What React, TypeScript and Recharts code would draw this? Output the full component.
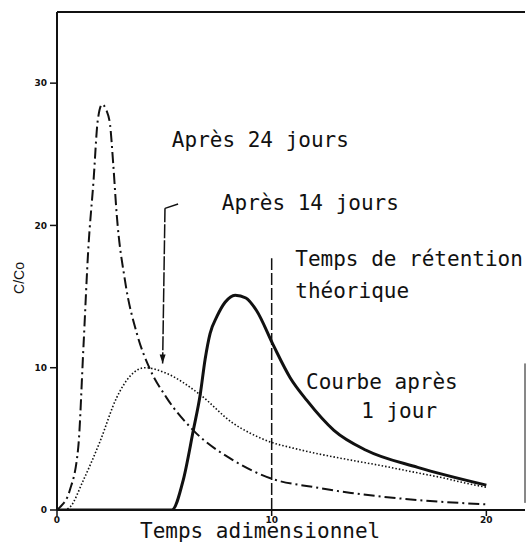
import React from 'react';
import { LineChart, Line, XAxis, YAxis, ReferenceLine, ReferenceDot } from 'recharts';

// courbe après 24 jours (trait-point)
const day24X = [0, 0.14, 0.6, 0.99, 1.23, 1.46, 1.7, 1.9, 2.1, 2.3, 2.47, 2.62, 2.78, 3.17, 3.72, 4.3, 5.1, 6.35, 8.2, 10, 12, 13.7, 16.8, 20];
const day24Y = [0, 0.2, 1.4, 4.4, 11.4, 18.4, 23.1, 27.4, 28.5, 28.1, 27.1, 24.3, 20.8, 16.1, 12.4, 10.0, 7.9, 5.6, 3.5, 2.2, 1.6, 1.2, 0.7, 0.4];

// courbe après 14 jours (pointillé)
const day14X = [0, 0.3, 0.6, 1.23, 2.0, 2.78, 3.4, 4.1, 5.1, 6.67, 8.2, 9, 10, 11, 12, 13, 14, 15, 16, 17, 18, 19, 20];
const day14Y = [0, 0, 0.2, 2.1, 4.8, 7.9, 9.4, 10.0, 9.6, 8.1, 6.1, 5.4, 4.75, 4.35, 4.0, 3.7, 3.42, 3.15, 2.85, 2.55, 2.25, 1.9, 1.6];

// courbe après 1 jour (trait plein)
const day1X = [0, 5.35, 5.88, 6.35, 6.67, 6.9, 7.13, 7.45, 7.83, 8.3, 8.8, 9.3, 10.07, 10.86, 11.64, 12.9, 14.4, 16.8, 20];
const day1Y = [0, 0, 2.1, 5.6, 8.1, 10.6, 12.4, 13.6, 14.6, 15.1, 14.9, 14.0, 11.6, 9.3, 7.7, 5.6, 4.2, 3.0, 1.75];

const xTicks = [0, 10, 20];
const yTicks = [0, 10, 20, 30];

const retentionTime = 10;
const retentionTop = 17.7;

// annotations: texte, position (coordonnées des données)
const noteTexts = ['Après 24 jours', 'Après 14 jours', 'Temps de rétention', 'théorique', 'Courbe après', '1 jour'];
const noteX = [5.35, 7.68, 11.1, 11.1, 11.6, 14.17];
const noteY = [25.54, 21.05, 17.12, 14.88, 8.49, 6.46];

// flèche vers la courbe 14 jours
const arrowX = [5.64, 5.03, 4.92];
const arrowY = [21.5, 21.2, 10.3];

const ink = '#111';
const mono = '"DejaVu Sans Mono", monospace';

const toPoints = (xs: number[], ys: number[]) => xs.map((x, i) => ({ x, y: ys[i] }));

const renderNote = (text: string) => (props: any) => {
  const vb = props.viewBox || {};
  return (
    <text x={vb.x} y={vb.y} fill={ink} fontFamily={mono} fontSize={21}>
      {text}
    </text>
  );
};

const ArrowHead = (props: any) => {
  const { cx, cy } = props;
  return <path d={`M${cx},${cy} L${cx - 3},${cy - 9} L${cx + 3},${cy - 9} Z`} fill={ink} />;
};

const renderXLabel = (props: any) => {
  const vb = props.viewBox || {};
  return (
    <text x={vb.x + 83} y={vb.y + 28} fill={ink} fontFamily={mono} fontSize={21}>
      Temps adimensionnel
    </text>
  );
};

const renderYLabel = (props: any) => {
  const vb = props.viewBox || {};
  const cx = vb.x + 19;
  const cy = vb.y + vb.height / 2 + 17;
  return (
    <text
      x={cx}
      y={cy}
      transform={`rotate(-90, ${cx}, ${cy})`}
      textAnchor="middle"
      dominantBaseline="central"
      fill={ink}
      fontFamily='"Liberation Sans", Arial, sans-serif'
      fontSize={14}
    >
      C/Co
    </text>
  );
};

const tickStyle = { fill: ink, fontSize: 9, fontWeight: 'bold', fontFamily: '"DejaVu Sans", sans-serif' };

export default function App() {
  return (
    <div style={{ width: 526, height: 545, background: '#fff' }}>
      <style>{'body { margin: 0; }'}</style>
      <LineChart width={526} height={545} margin={{ top: 12, right: 1, bottom: 0, left: 0 }}>
        <XAxis
          type="number"
          dataKey="x"
          domain={[0, 21.8]}
          allowDataOverflow
          ticks={xTicks}
          tickSize={6}
          tickMargin={1}
          height={35}
          tick={tickStyle}
          axisLine={{ stroke: ink, strokeWidth: 2 }}
          tickLine={{ stroke: ink, strokeWidth: 1.5 }}
          label={renderXLabel}
        />
        <YAxis
          type="number"
          dataKey="y"
          domain={[0, 35]}
          allowDataOverflow
          ticks={yTicks}
          width={57}
          tickSize={7}
          tickMargin={3}
          tick={tickStyle}
          axisLine={{ stroke: ink, strokeWidth: 2 }}
          tickLine={{ stroke: ink, strokeWidth: 1.5 }}
          label={renderYLabel}
        />

        <ReferenceLine y={35} stroke={ink} strokeWidth={2} />
        <ReferenceLine
          segment={[{ x: 21.8, y: 0.5 }, { x: 21.8, y: 10.3 }]}
          stroke={ink}
          strokeWidth={1}
        />

        <ReferenceLine
          segment={[{ x: retentionTime, y: 0 }, { x: retentionTime, y: retentionTop }]}
          stroke={ink}
          strokeWidth={1.5}
          strokeDasharray="12 3"
        />

        <ReferenceLine
          segment={[{ x: arrowX[0], y: arrowY[0] }, { x: arrowX[1], y: arrowY[1] }]}
          stroke={ink}
          strokeWidth={1.5}
        />
        <ReferenceLine
          segment={[{ x: arrowX[1], y: arrowY[1] }, { x: arrowX[2], y: arrowY[2] }]}
          stroke={ink}
          strokeWidth={1.5}
          strokeDasharray="14 2"
        />
        <ReferenceDot x={arrowX[2]} y={arrowY[2]} r={3} shape={ArrowHead} />

        <Line
          data={toPoints(day14X, day14Y)}
          dataKey="y"
          type="monotone"
          stroke={ink}
          strokeWidth={1.6}
          strokeDasharray="1.5 2"
          dot={false}
          isAnimationActive={false}
        />
        <Line
          data={toPoints(day24X, day24Y)}
          dataKey="y"
          type="monotone"
          stroke={ink}
          strokeWidth={2}
          strokeDasharray="11 4 2 4"
          dot={false}
          isAnimationActive={false}
        />
        <Line
          data={toPoints(day1X, day1Y)}
          dataKey="y"
          type="monotone"
          stroke={ink}
          strokeWidth={3}
          dot={false}
          isAnimationActive={false}
        />

        {noteTexts.map((t, i) => (
          <ReferenceDot
            key={t}
            x={noteX[i]}
            y={noteY[i]}
            r={0}
            fill="none"
            stroke="none"
            label={renderNote(t)}
          />
        ))}
      </LineChart>
    </div>
  );
}
